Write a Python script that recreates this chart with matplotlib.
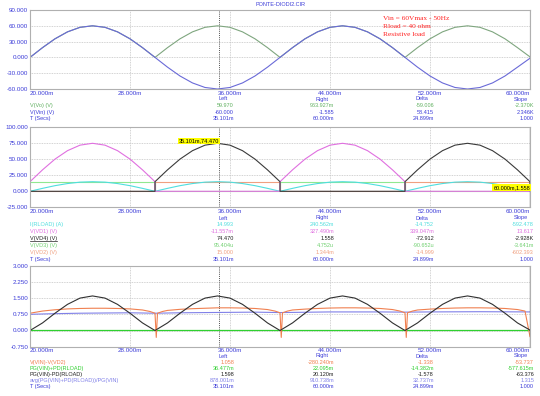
import matplotlib
matplotlib.use("Agg")
import matplotlib.pyplot as plt
from matplotlib.lines import Line2D

plt.rcParams["font.family"] = ["Liberation Sans", "DejaVu Sans"]

W, H = 540, 396

# shared x axis (ms)
x_ticks = [20, 28, 36, 44, 52, 60]
x_tick_labels = ["20.000m", "28.000m", "36.000m", "44.000m", "52.000m", "60.000m"]
cursor_left = 35.101
cursor_right = 60.0

# panel 1: input / rectified voltage
t1 = [20, 21, 22, 23, 24, 25, 26, 27, 28, 29,
      30, 31, 32, 33, 34, 35, 36, 37, 38, 39,
      40, 41, 42, 43, 44, 45, 46, 47, 48, 49,
      50, 51, 52, 53, 54, 55, 56, 57, 58, 59, 60]
v_in = [0.0, 18.5, 35.3, 48.5, 57.1, 60.0, 57.1, 48.5, 35.3, 18.5,
        0.0, -18.5, -35.3, -48.5, -57.1, -60.0, -57.1, -48.5, -35.3, -18.5,
        0.0, 18.5, 35.3, 48.5, 57.1, 60.0, 57.1, 48.5, 35.3, 18.5,
        0.0, -18.5, -35.3, -48.5, -57.1, -60.0, -57.1, -48.5, -35.3, -18.5, -1.6]
v_out = [0.0, 18.5, 35.3, 48.5, 57.1, 60.0, 57.1, 48.5, 35.3, 18.5,
         0.0, 18.5, 35.3, 48.5, 57.1, 60.0, 57.1, 48.5, 35.3, 18.5,
         0.0, 18.5, 35.3, 48.5, 57.1, 60.0, 57.1, 48.5, 35.3, 18.5,
         0.0, 18.5, 35.3, 48.5, 57.1, 60.0, 57.1, 48.5, 35.3, 18.5, 1.0]

# panel 2: diode voltages and load current (repeated time = step)
t2 = [20, 21, 22, 23, 24, 25, 26, 27, 28, 29, 30,
      30, 31, 32, 33, 34, 35, 36, 37, 38, 39, 40,
      40, 41, 42, 43, 44, 45, 46, 47, 48, 49, 50,
      50, 51, 52, 53, 54, 55, 56, 57, 58, 59, 60, 60]
hump = [15.0, 33.5, 50.3, 63.5, 72.1, 75.0, 72.1, 63.5, 50.3, 33.5, 15.0]
off = [0.0, 0.0, 0.0, 0.0, 0.0, 0.0, 0.0, 0.0, 0.0, 0.0, 0.0]
level = [15.0, 15.0, 15.0, 15.0, 15.0, 15.0, 15.0, 15.0, 15.0, 15.0, 15.0]
cur = [0.0, 4.6, 8.8, 12.1, 14.3, 15.0, 14.3, 12.1, 8.8, 4.6, 0.0]
v_d1 = hump + off + hump + off + [0.3]
v_d4 = off + hump + off + hump + [1.6]
v_d3 = level + off + level + off + [0.0]
v_d2 = off + level + off + level + [0.0]
i_load = cur + cur + cur + cur + [0.2]

# panel 3: power quantities
t3 = t1
p_sum = [0.0, 0.35, 0.80, 1.21, 1.50, 1.60, 1.50, 1.21, 0.80, 0.35,
         0.0, 0.35, 0.80, 1.21, 1.50, 1.60, 1.50, 1.21, 0.80, 0.35,
         0.0, 0.35, 0.80, 1.21, 1.50, 1.60, 1.50, 1.21, 0.80, 0.35,
         0.0, 0.35, 0.80, 1.21, 1.50, 1.60, 1.50, 1.21, 0.80, 0.35, 0.02]
t3_diff = [20, 21, 22, 23, 24, 25, 26, 27, 28, 29, 29.6, 30.0, 30.1, 30.2, 30.6,
           31, 32, 33, 34, 35, 36, 37, 38, 39, 39.6, 40.0, 40.1, 40.2, 40.6,
           41, 42, 43, 44, 45, 46, 47, 48, 49, 49.6, 50.0, 50.1, 50.2, 50.6,
           51, 52, 53, 54, 55, 56, 57, 58, 59, 59.6, 60.0]
v_diff = [0.80, 0.90, 0.96, 1.00, 1.02, 1.03, 1.03, 1.02, 1.00, 0.95, 0.88, 0.80, -0.32, 0.80, 0.88,
          0.93, 0.98, 1.01, 1.03, 1.05, 1.05, 1.04, 1.02, 0.97, 0.90, 0.82, -0.32, 0.82, 0.90,
          0.95, 0.99, 1.02, 1.04, 1.05, 1.05, 1.04, 1.02, 0.97, 0.90, 0.82, -0.32, 0.82, 0.90,
          0.95, 0.99, 1.02, 1.04, 1.05, 1.05, 1.04, 1.02, 0.97, 0.90, -0.28]
t3_avg = [20, 22, 24, 26, 28, 30, 32, 34, 36, 38, 40, 44, 48, 50, 52, 56, 60]
p_avg = [0.75, 0.78, 0.80, 0.81, 0.82, 0.80, 0.82, 0.83, 0.84, 0.85, 0.83, 0.86, 0.86, 0.85, 0.86, 0.87, 0.86]
t3_bal = [20, 20.05, 60]
p_bal = [1.9, 0.0, 0.0]

# cursor readouts
p1_names = ["V(Vo) (V)", "V(Vin) (V)", "T (Secs)"]
p1_left = ["59.970", "-60.000", "35.101m"]
p1_right = ["963.927m", "-1.585", "60.000m"]
p1_delta = ["-59.006", "58.415", "24.899m"]
p1_slope = ["-2.370K", "2.346K", "1.000"]

p2_names = ["I(RLOAD) (A)", "V(VD1) (V)", "V(VD4) (V)", "V(VD3) (V)", "V(VD2) (V)", "T (Secs)"]
p2_left = ["14.993", "-11.557m", "74.470", "95.404u", "15.000", "35.101m"]
p2_right = ["240.562m", "327.490m", "1.558", "4.752u", "1.344m", "60.000m"]
p2_delta = ["-14.752", "339.047m", "-72.912", "-90.652u", "-14.999", "24.899m"]
p2_slope = ["-592.478", "13.617", "-2.928K", "-3.641m", "-602.393", "1.000"]

p3_names = ["V(VIN)-V(VD2)", "PG(VIN)+PD(RLOAD)", "PG(VIN)-PD(RLOAD)",
            "avg(PG(VIN)+PD(RLOAD))/PG(VIN)", "T (Secs)"]
p3_left = ["1.058", "36.477m", "1.598", "878.001m", "35.101m"]
p3_right = ["-280.240m", "22.095m", "20.120m", "910.738m", "60.000m"]
p3_delta = ["-1.338", "-14.382m", "-1.578", "32.737m", "24.899m"]
p3_slope = ["-53.737", "-577.615m", "-63.376", "1.315", "1.000"]

BLUE = "#3c3cd8"
GRID = "#c4c4c4"


def fx(x):
    return x / W


def fy(y):
    return 1 - y / H


fig = plt.figure(figsize=(W / 100, H / 100), dpi=100)


def make_axes(top, bottom, ylim, yticks):
    ax = fig.add_axes([fx(30), fy(bottom), (530 - 30) / W, (bottom - top) / H])
    ax.set_xlim(20, 60)
    ax.set_ylim(*ylim)
    ax.set_xticks(x_ticks)
    ax.set_xticklabels(x_tick_labels)
    ax.set_yticks(yticks)
    ax.set_yticklabels([f"{v:.3f}" for v in yticks])
    ax.tick_params(length=0, pad=1.2, labelsize=4.5, labelcolor=BLUE)
    ax.get_xticklabels()[0].set_ha("left")
    ax.get_xticklabels()[-1].set_ha("right")
    for s in ax.spines.values():
        s.set_color("#b0b0b0")
        s.set_linewidth(0.8)
    ax.grid(True, color=GRID, linestyle=(0, (1, 1)), linewidth=0.6)
    ax.set_axisbelow(True)
    ax.axvline(cursor_left, color="#505050", linestyle=(0, (1, 1.2)), linewidth=0.7)
    return ax


def readout(header_y, step, names, colors, left, right, delta, slope):
    cols = [(230, left), (330, right), (430, delta), (530, slope)]
    for (px, _), head in zip(cols, ["Left", "Right", "Delta", "Slope"]):
        fig.text(fx(px - 2), fy(header_y), head, ha="right", va="center",
                 fontsize=4, color=BLUE)
    for i, (name, c) in enumerate(zip(names, colors)):
        y = header_y + step * (i + 1)
        fig.text(fx(30), fy(y), name, ha="left", va="center", fontsize=4, color=c)
        for px, vals in cols:
            fig.text(fx(px + 4), fy(y), vals[i], ha="right", va="center",
                     fontsize=4, color=c)


# panel 1
ax1 = make_axes(10, 89, (-60, 90), [-60, -30, 0, 30, 60, 90])
c_out, c_in = "#7fa67f", "#6a6ad8"
ax1.plot(t1, v_out, color=c_out, lw=0.8)
ax1.plot(t1, v_in, color=c_in, lw=0.8)
ax1.axvline(cursor_right, color="#909090", lw=0.8)
for k, s in enumerate(["Vin = 60Vmax - 50Hz", "Rload = 40 ohm", "Resistive load"]):
    fig.text(fx(383), fy(18.3 + 8.3 * k), s, ha="left", va="center", fontsize=5.3,
             color="#ff2020", family="Liberation Serif")
fig.text(fx(280), fy(4.5), "PONTE-DIODI2.CIR", ha="center", va="center",
         fontsize=4, color=BLUE)
readout(99, 6.6, p1_names, ["#60b060", BLUE, BLUE], p1_left, p1_right, p1_delta, p1_slope)

# panel 2
ax2 = make_axes(127.3, 207.3, (-25, 100), [-25, 0, 25, 50, 75, 100])
c_cy, c_pk, c_bk, c_gr, c_or = "#50dede", "#e070e0", "#3a3a3a", "#90e890", "#f0a080"
ax2.plot(t2, v_d2, color=c_or, lw=0.8)
ax2.plot(t2, v_d3, color=c_gr, lw=0.8)
ax2.plot(t2, i_load, color=c_cy, lw=0.8)
ax2.plot(t2, v_d1, color=c_pk, lw=0.8)
ax2.plot(t2, v_d4, color=c_bk, lw=0.8)
ax2.axvline(cursor_right, color="#303030", lw=0.9)
box = dict(facecolor="#ffff00", edgecolor="none", pad=0.6)
ax2.text(cursor_left, 74.47, "35.101m,74.470", ha="right", va="bottom", fontsize=4,
         color="black", bbox=box)
ax2.text(cursor_right, 1.558, "60.000m,1.558", ha="right", va="bottom", fontsize=4,
         color="black", bbox=box)
readout(218, 6.9, p2_names, [c_cy, c_pk, "#202020", "#70d070", c_or, BLUE],
        p2_left, p2_right, p2_delta, p2_slope)
fig.add_artist(Line2D([fx(30), fx(57)], [fy(241.3), fy(241.3)], color="#202020", lw=0.5))

# panel 3
ax3 = make_axes(265.7, 346.7, (-0.75, 3.0), [-0.75, 0.0, 0.75, 1.5, 2.25, 3.0])
c3_or, c3_gr, c3_bk, c3_bl = "#f08050", "#30d030", "#303030", "#8080e8"
ax3.plot(t3_bal, p_bal, color=c3_gr, lw=0.9)
ax3.plot(t3_avg, p_avg, color=c3_bl, lw=0.8)
ax3.plot(t3_diff, v_diff, color=c3_or, lw=0.8)
ax3.plot(t3, p_sum, color=c3_bk, lw=0.8)
ax3.axvline(cursor_right, color="#303030", lw=0.9)
readout(356, 6.1, p3_names, [c3_or, c3_gr, "#202020", c3_bl, BLUE],
        p3_left, p3_right, p3_delta, p3_slope)

fig.savefig("out.png", dpi=100, facecolor="white")
